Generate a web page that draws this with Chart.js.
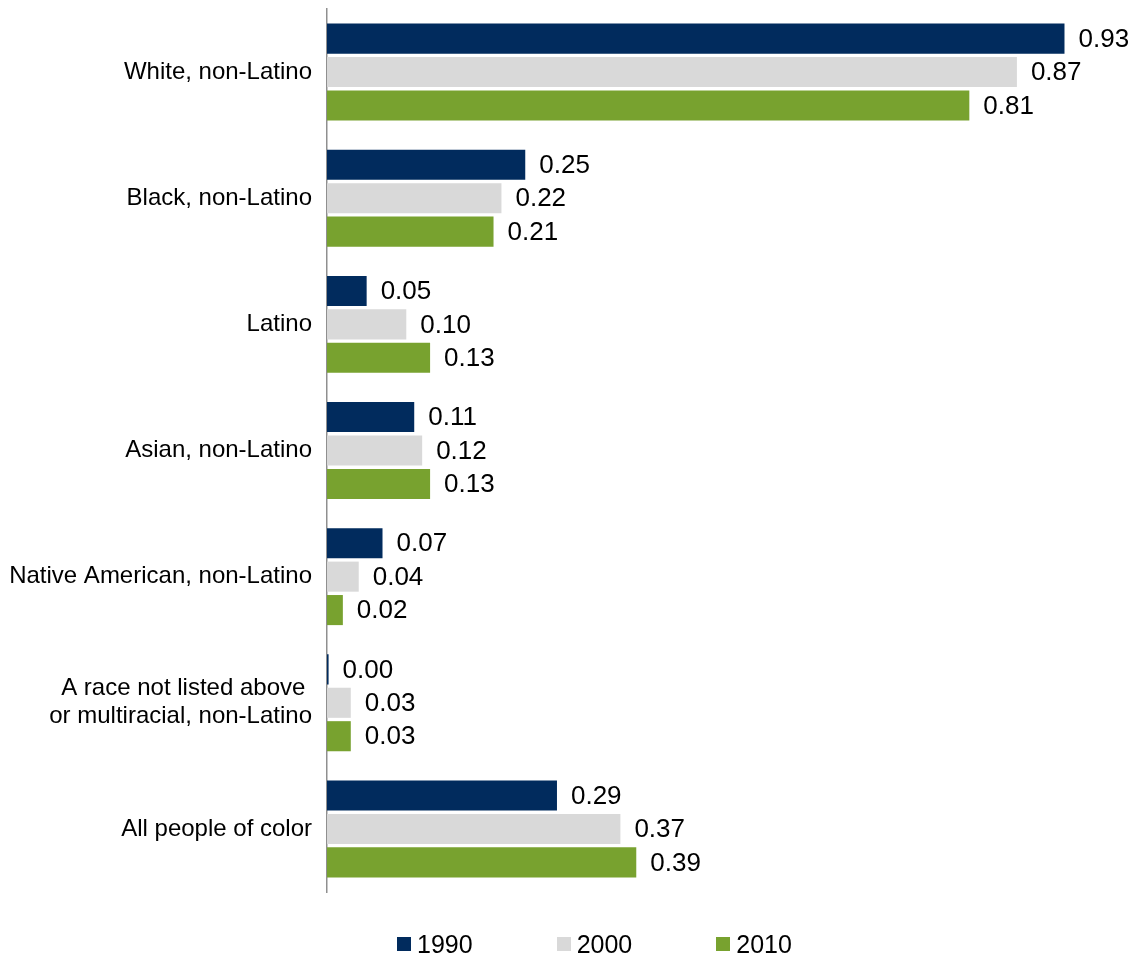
<!DOCTYPE html>
<html lang="en">
<head>
    <meta charset="UTF-8">
    <title>Share of population by race, 1990-2010</title>
    <script src="https://cdn.jsdelivr.net/npm/chart.js"></script>
    <style>
        body { margin: 0; background: #fff; font-family: 'Liberation Sans', Arial, sans-serif; }
        #wrap { position: relative; width: 1137px; height: 955px; }
        #legend { position: absolute; left: 397px; top: 932px; display: flex; align-items: center; height: 24px; }
        .item { display: flex; align-items: center; margin-right: 84px; font-size: 25px; color: #000; }
        .item span.box { width: 14px; height: 14px; margin-right: 6px; display: inline-block; }
    </style>
</head>
<body>
    <div id="wrap">
        <canvas id="raceChart"></canvas>
        <div id="legend"></div>
    </div>
    <script>
        const categories = [
            'White, non-Latino',
            'Black, non-Latino',
            'Latino',
            'Asian, non-Latino',
            'Native American, non-Latino',
            ['A race not listed above ', 'or multiracial, non-Latino'],
            'All people of color'
        ];
        const years = ['1990', '2000', '2010'];
        const values1990 = [0.93, 0.25, 0.05, 0.11, 0.07, 0.002, 0.29];
        const values2000 = [0.87, 0.22, 0.10, 0.12, 0.04, 0.03, 0.37];
        const values2010 = [0.81, 0.21, 0.13, 0.13, 0.02, 0.03, 0.39];
        const colors = ['#012b5d', '#d9d9d9', '#78a22f'];

        const font = "'Liberation Sans', Arial, sans-serif";

        // value labels to the right of each bar
        const barLabels = {
            id: 'barLabels',
            afterDatasetsDraw(chart) {
                const ctx = chart.ctx;
                ctx.save();
                ctx.font = '26px ' + font;
                ctx.fillStyle = '#000';
                ctx.textAlign = 'left';
                ctx.textBaseline = 'middle';
                chart.data.datasets.forEach((ds, i) => {
                    chart.getDatasetMeta(i).data.forEach((bar, j) => {
                        ctx.fillText(ds.data[j].toFixed(2), bar.x + 14, bar.y + 1);
                    });
                });
                ctx.restore();
            }
        };

        const ctx = document.getElementById('raceChart').getContext('2d');
        const chart = new Chart(ctx, {
            type: 'bar',
            data: {
                labels: categories,
                datasets: [
                    { label: years[0], data: values1990, backgroundColor: colors[0] },
                    { label: years[1], data: values2000, backgroundColor: colors[1] },
                    { label: years[2], data: values2010, backgroundColor: colors[2] }
                ]
            },
            options: {
                indexAxis: 'y',
                responsive: true,
                maintainAspectRatio: false,
                animation: false,
                datasets: {
                    bar: { categoryPercentage: 0.795, barPercentage: 0.9 }
                },
                layout: { padding: { top: 9, bottom: 63, right: 17, left: 0 } },
                plugins: {
                    legend: { display: false },
                    tooltip: { enabled: false }
                },
                scales: {
                    x: {
                        display: false,
                        min: 0,
                        max: 1
                    },
                    y: {
                        afterFit: function(scale) {
                            scale.width = 327;
                            scale.paddingTop = 0;
                            scale.paddingBottom = 0;
                        },
                        grid: { display: false, drawTicks: false },
                        border: { display: true, color: '#8f8f8f', width: 1.5 },
                        ticks: {
                            padding: 15,
                            color: '#000',
                            font: { family: font, size: 24, lineHeight: 1.17 }
                        }
                    }
                }
            },
            plugins: [barLabels]
        });

        const legend = document.getElementById('legend');
        years.forEach((y, i) => {
            const item = document.createElement('div');
            item.className = 'item';
            item.innerHTML = '<span class="box" style="background:' + colors[i] + '"></span>' + y;
            legend.appendChild(item);
        });
    </script>
</body>
</html>
